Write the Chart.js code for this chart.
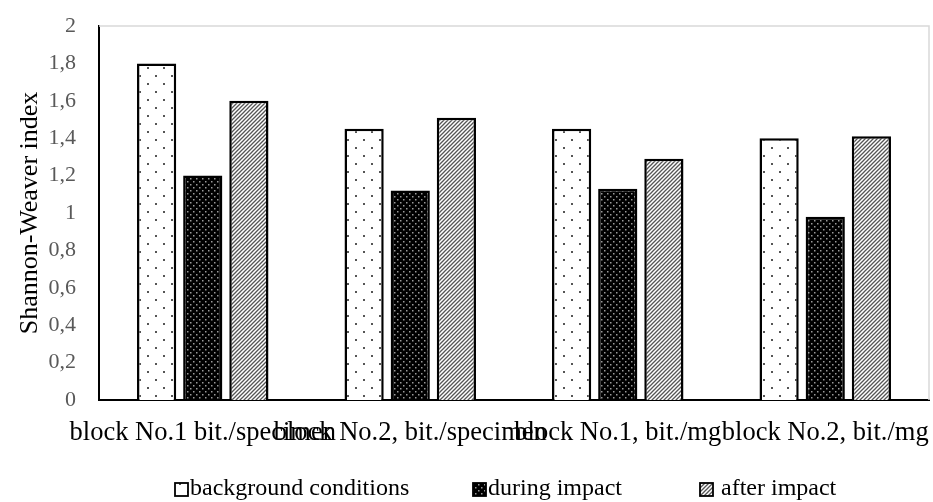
<!DOCTYPE html>
<html>
<head>
<meta charset="utf-8">
<script src="https://cdn.jsdelivr.net/npm/chart.js@4/dist/chart.umd.min.js"></script>
<style>
  html, body { margin: 0; padding: 0; background: #ffffff; }
  #wrap { width: 933px; height: 502px; position: relative; }
</style>
</head>
<body>
<div id="wrap"><canvas id="c" width="933" height="502"></canvas></div>
<script>
const categories = ["block No.1 bit./specimen", "block No.2, bit./specimen", "block No.1, bit./mg", "block No.2, bit./mg"];
const seriesNames = ["background conditions", "during impact", "after impact"];
const backgroundValues = [1.80, 1.45, 1.45, 1.40];
const duringValues = [1.20, 1.12, 1.13, 0.98];
const afterValues = [1.60, 1.51, 1.29, 1.41];
const yTicks = [0, 0.2, 0.4, 0.6, 0.8, 1, 1.2, 1.4, 1.6, 1.8, 2];
const yTitle = "Shannon-Weaver index";

const SERIF = '"Liberation Serif", "Times New Roman", serif';

function makePattern(size, draw) {
  const c = document.createElement('canvas');
  c.width = size; c.height = size;
  const g = c.getContext('2d');
  draw(g, size);
  return g.createPattern(c, 'repeat');
}
const dotsLight = makePattern(16, (g, s) => {
  g.fillStyle = '#ffffff'; g.fillRect(0, 0, s, s);
  g.fillStyle = '#555555';
  g.fillRect(3, 3, 2, 2);
  g.fillRect(11, 11, 2, 2);
});
const dotsDark = makePattern(6, (g, s) => {
  g.fillStyle = '#000000'; g.fillRect(0, 0, s, s);
  g.fillStyle = '#9a9a9a';
  g.fillRect(1, 1, 1.5, 1.5);
  g.fillRect(4, 4, 1.5, 1.5);
});
const stripes = makePattern(4, (g, s) => {
  g.fillStyle = '#ffffff'; g.fillRect(0, 0, s, s);
  g.strokeStyle = '#555555'; g.lineWidth = 1.3;
  g.beginPath();
  g.moveTo(-1, s + 1); g.lineTo(s + 1, -1);
  g.moveTo(-1, 1); g.lineTo(1, -1);
  g.moveTo(s - 1, s + 1); g.lineTo(s + 1, s - 1);
  g.stroke();
});
const fills = [dotsLight, dotsDark, stripes];

const frame = {
  id: 'frame',
  beforeDatasetsDraw(chart) {
    const { ctx, chartArea: a } = chart;
    ctx.save();
    ctx.strokeStyle = '#d9d9d9';
    ctx.lineWidth = 1.5;
    ctx.beginPath();
    ctx.moveTo(a.left, a.top); ctx.lineTo(a.right, a.top); ctx.lineTo(a.right, a.bottom);
    ctx.stroke();
    ctx.restore();
  }
};

const legendPos = [175, 473, 700];
const customLegend = {
  id: 'customLegend',
  afterDraw(chart) {
    const ctx = chart.ctx;
    ctx.save();
    ctx.font = '24px ' + SERIF;
    ctx.textBaseline = 'alphabetic';
    ctx.textAlign = 'left';
    const base = 495;
    chart.data.datasets.forEach((ds, i) => {
      const x = legendPos[i];
      ctx.fillStyle = ds.backgroundColor;
      ctx.fillRect(x, 483, 13, 13);
      ctx.strokeStyle = '#000'; ctx.lineWidth = 1.8;
      ctx.strokeRect(x, 483, 13, 13);
      ctx.fillStyle = '#000';
      ctx.fillText((i === 2 ? ' ' : '') + ds.label, x + 15, base);
    });
    ctx.restore();
  }
};

const fmt = v => String(Math.round(v * 10) / 10).replace('.', ',');

new Chart(document.getElementById('c'), {
  type: 'bar',
  data: {
    labels: categories,
    datasets: [
      { label: seriesNames[0], data: backgroundValues, backgroundColor: fills[0] },
      { label: seriesNames[1], data: duringValues, backgroundColor: fills[1] },
      { label: seriesNames[2], data: afterValues, backgroundColor: fills[2] }
    ].map(d => Object.assign(d, {
      borderColor: '#000000', borderWidth: 2.5, borderSkipped: 'bottom',
      categoryPercentage: 0.667, barPercentage: 0.85
    }))
  },
  options: {
    responsive: false,
    animation: false,
    devicePixelRatio: 1,
    layout: { padding: { top: 26, right: 4, bottom: 40, left: 0 } },
    plugins: { legend: { display: false }, tooltip: { enabled: false } },
    scales: {
      x: {
        grid: { display: false, drawTicks: false },
        border: { display: true, color: '#000', width: 2 },
        ticks: {
          autoSkip: false, maxRotation: 0, minRotation: 0, padding: 17,
          color: '#000', font: { family: SERIF, size: 26.5 }
        },
        afterFit(s) { s.height = 62; s.paddingLeft = 0; s.paddingRight = 0; }
      },
      y: {
        min: 0, max: 2,
        afterBuildTicks(s) { s.ticks = yTicks.map(v => ({ value: v })); },
        grid: { display: false, drawTicks: false },
        border: { display: true, color: '#000', width: 2 },
        ticks: {
          padding: 23, color: '#595959', callback: v => fmt(v),
          font: { family: SERIF, size: 22 }
        },
        title: {
          display: true, text: yTitle, color: '#000', padding: { top: 15, bottom: 0 },
          font: { family: SERIF, size: 26 }
        },
        afterFit(s) { s.width = 99; s.paddingTop = 0; s.paddingBottom = 0; }
      }
    }
  },
  plugins: [frame, customLegend]
});
</script>
</body>
</html>
